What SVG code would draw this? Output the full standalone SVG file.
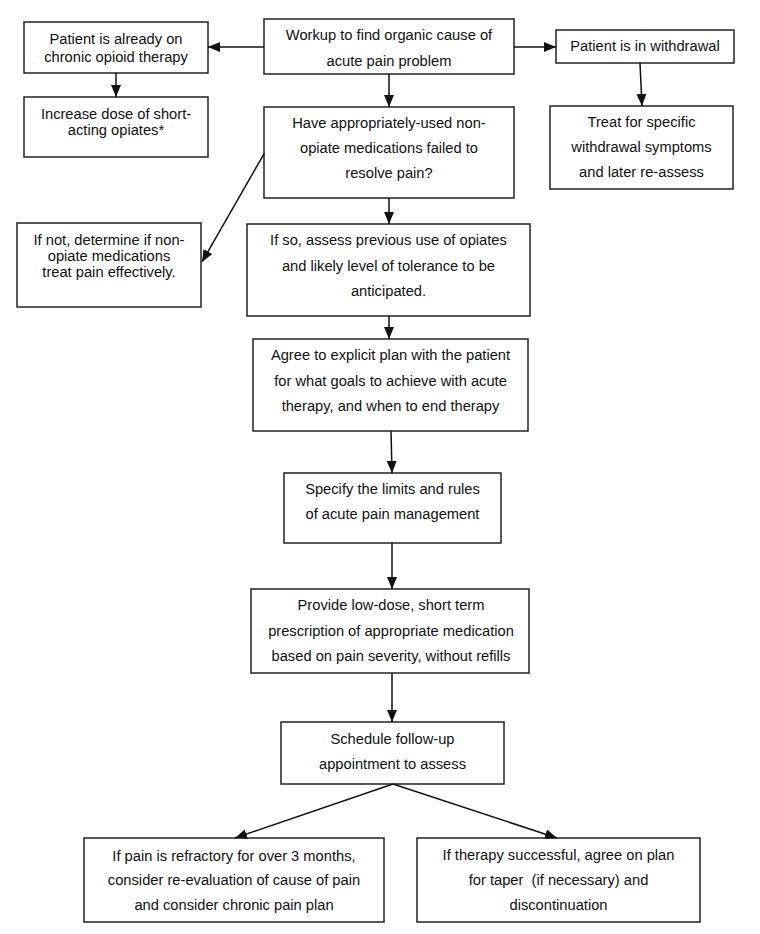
<svg xmlns="http://www.w3.org/2000/svg" width="760" height="934" viewBox="0 0 760 934">
<defs>
<marker id="ah" markerUnits="userSpaceOnUse" markerWidth="12" markerHeight="10" refX="12" refY="5" orient="auto">
<path d="M0,0 L12,5 L0,10 z" fill="#111"/>
</marker>
<style>
rect{fill:#fff;stroke:#222;stroke-width:1.5}
text{font-family:"Liberation Sans",Arial,sans-serif;font-size:14.7px;fill:#111;text-anchor:middle}
.c line{stroke:#111;stroke-width:1.5;marker-end:url(#ah)}
</style>
</defs>
<rect x="0" y="0" width="760" height="934" style="fill:#fff;stroke:none"/>
<g id="n-chronic"><rect x="24" y="22" width="184" height="51"/><text x="116" y="44">Patient is already on</text><text x="116" y="62">chronic opioid therapy</text></g>
<g id="n-increase"><rect x="24" y="97" width="184" height="60"/><text x="116" y="119">Increase dose of short-</text><text x="116" y="135">acting opiates*</text></g>
<g id="n-workup"><rect x="264" y="19" width="250" height="55"/><text x="389" y="40">Workup to find organic cause of</text><text x="389" y="65.5">acute pain problem</text></g>
<g id="n-withdrawal"><rect x="556" y="30" width="178" height="33"/><text x="645" y="51">Patient is in withdrawal</text></g>
<g id="n-treat"><rect x="550" y="106" width="183" height="83"/><text x="641.5" y="126.5">Treat for specific</text><text x="641.5" y="151.5">withdrawal symptoms</text><text x="641.5" y="176.5">and later re-assess</text></g>
<g id="n-have"><rect x="264" y="107" width="250" height="91"/><text x="389" y="128">Have appropriately-used non-</text><text x="389" y="153">opiate medications failed to</text><text x="389" y="178">resolve pain?</text></g>
<g id="n-ifnot"><rect x="17" y="223" width="184" height="84"/><text x="109" y="245">If not, determine if non-</text><text x="109" y="261">opiate medications</text><text x="109" y="277">treat pain effectively.</text></g>
<g id="n-ifso"><rect x="247" y="224" width="283" height="92"/><text x="388.5" y="245">If so, assess previous use of opiates</text><text x="388.5" y="270.5">and likely level of tolerance to be</text><text x="388.5" y="296">anticipated.</text></g>
<g id="n-agree"><rect x="253" y="339" width="275" height="92"/><text x="390.5" y="360">Agree to explicit plan with the patient</text><text x="390.5" y="385.5">for what goals to achieve with acute</text><text x="390.5" y="411">therapy, and when to end therapy</text></g>
<g id="n-specify"><rect x="284" y="473" width="217" height="70"/><text x="392.5" y="494">Specify the limits and rules</text><text x="392.5" y="519">of acute pain management</text></g>
<g id="n-provide"><rect x="251" y="589" width="278" height="84"/><text x="391" y="610">Provide low-dose, short term</text><text x="391" y="636">prescription of appropriate medication</text><text x="391" y="661">based on pain severity, without refills</text></g>
<g id="n-schedule"><rect x="281" y="722" width="223" height="62"/><text x="392.5" y="743.5">Schedule follow-up</text><text x="392.5" y="769">appointment to assess</text></g>
<g id="n-refractory"><rect x="84" y="838" width="300" height="84"/><text x="234" y="860.5">If pain is refractory for over 3 months,</text><text x="234" y="885">consider re-evaluation of cause of pain</text><text x="234" y="910">and consider chronic pain plan</text></g>
<g id="n-success"><rect x="417" y="838" width="283" height="84"/><text x="558.5" y="860">If therapy successful, agree on plan</text><text x="558.5" y="885" xml:space="preserve">for taper  (if necessary) and</text><text x="558.5" y="910">discontinuation</text></g>
<g class="c" id="connectors">
<line x1="264" y1="47" x2="208" y2="47"/>
<line x1="514" y1="47" x2="556" y2="47"/>
<line x1="116" y1="73" x2="116" y2="97"/>
<line x1="389" y1="74" x2="389" y2="107"/>
<line x1="640" y1="63" x2="642" y2="106"/>
<line x1="264.3" y1="153.3" x2="202" y2="262"/>
<line x1="389" y1="198" x2="389" y2="224"/>
<line x1="389" y1="316" x2="389" y2="339"/>
<line x1="391" y1="431" x2="392" y2="473"/>
<line x1="392" y1="543" x2="392" y2="589"/>
<line x1="392" y1="673" x2="392" y2="722"/>
<line x1="393" y1="784" x2="235" y2="838"/>
<line x1="393" y1="784" x2="557" y2="838"/>
</g>
</svg>
